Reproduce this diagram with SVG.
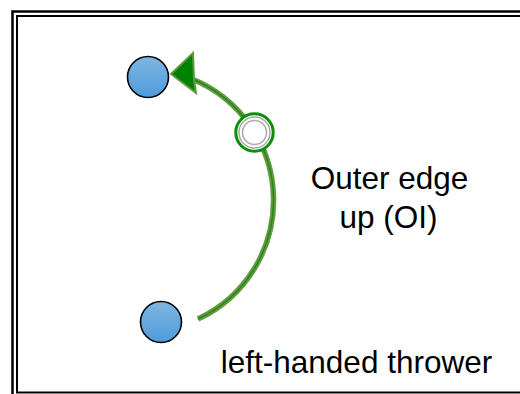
<svg xmlns="http://www.w3.org/2000/svg" width="520" height="394" viewBox="0 0 520 394">
<defs>
<linearGradient id="ball" x1="0" y1="0" x2="0" y2="1">
<stop offset="0" stop-color="#80b6e2"/>
<stop offset="1" stop-color="#4d9cdc"/>
</linearGradient>
<style>
.frame{fill:none;stroke:#000}
.ball{fill:url(#ball);stroke:#000;stroke-width:1.6}
.lbl{font-family:"Liberation Sans",Arial,sans-serif;font-size:31.5px;fill:#000;text-anchor:middle}
</style>
</defs>
<rect width="520" height="394" fill="#fff"/>
<rect class="frame" x="12.5" y="11.5" width="530" height="400" stroke-width="2.5"/>
<rect class="frame" x="17" y="16" width="530" height="376.5" stroke-width="2"/>
<g id="connectors">
<path d="M198,319 A131,131 0 0 0 192,79" fill="none" stroke="#66993f" stroke-width="5.5"/>
<path d="M198,319 A131,131 0 0 0 192,79" fill="none" stroke="#1f8a1a" stroke-width="1.5"/>
<polygon points="171,74 193,53 194,80 196,93" fill="#008000" stroke="#5e9a3c" stroke-width="2" stroke-linejoin="miter"/>
</g>
<g id="thrower-top">
<circle class="ball" cx="148" cy="77" r="20.5"/>
</g>
<g id="thrower-bottom">
<circle class="ball" cx="161" cy="322" r="20.5"/>
</g>
<g id="waypoint">
<circle cx="254.5" cy="132.5" r="18.7" fill="#fff" stroke="#0a900a" stroke-width="3"/>
<circle cx="254.5" cy="132.5" r="15.5" fill="none" stroke="#aaa" stroke-width="1.5"/>
<circle cx="254.5" cy="132.5" r="12" fill="none" stroke="#aaa" stroke-width="1.5"/>
</g>
<g id="labels">
<text class="lbl" x="389.5" y="189">Outer edge</text>
<text class="lbl" x="388.5" y="228">up (OI)</text>
<text class="lbl" x="356.5" y="373">left-handed thrower</text>
</g>
</svg>
